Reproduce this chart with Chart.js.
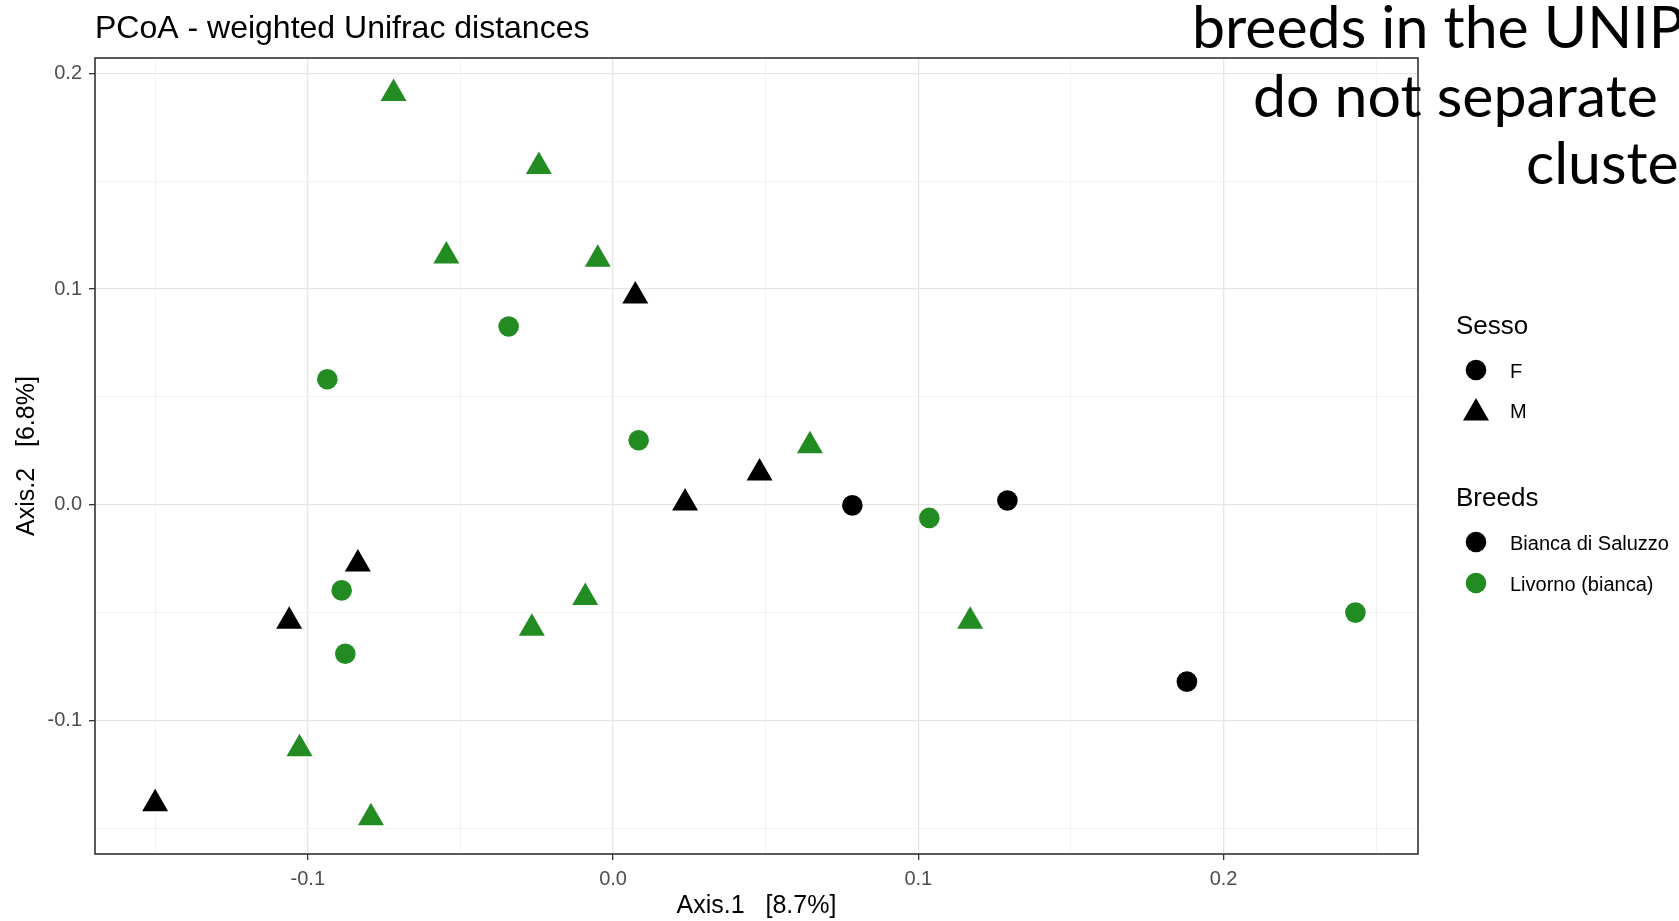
<!DOCTYPE html>
<html>
<head>
<meta charset="utf-8">
<title>PCoA - weighted Unifrac distances</title>
<script src="https://cdn.jsdelivr.net/npm/chart.js@4.4.1/dist/chart.umd.min.js"></script>
<style>
  html, body { margin: 0; padding: 0; background: #ffffff; overflow: hidden; }
  #wrap { position: relative; width: 1679px; height: 921px; }
  canvas { display: block; }
</style>
</head>
<body>
<div id="wrap"><canvas id="pcoa" width="1679" height="921"></canvas></div>
<script>
// PCoA coordinates per group (Axis.1, Axis.2)
const biancaF_x = [0.0784, 0.1292, 0.1880];
const biancaF_y = [-0.0003, 0.0020, -0.0820];

const biancaM_x = [0.0073, 0.0480, 0.0236, -0.0836, -0.1061, -0.1500];
const biancaM_y = [0.0968, 0.0147, 0.0008, -0.0275, -0.0540, -0.1386];

const livornoF_x = [-0.0342, -0.0936, 0.0084, -0.0889, -0.0877, 0.1036, 0.2432];
const livornoF_y = [0.0826, 0.0582, 0.0299, -0.0397, -0.0691, -0.0061, -0.0500];

const livornoM_x = [-0.0719, -0.0243, -0.0546, -0.0050, 0.0645, -0.0091, -0.0266, 0.1170, -0.1027, -0.0793];
const livornoM_y = [0.1906, 0.1568, 0.1153, 0.1138, 0.0274, -0.0430, -0.0573, -0.0540, -0.1131, -0.1451];

// axis ranges and grid positions (major lines are labelled, minor lines are not)
const xRange = [-0.1697, 0.2637];
const yRange = [-0.1619, 0.2071];
const xGrid = [-0.15, -0.10, -0.05, 0.00, 0.05, 0.10, 0.15, 0.20, 0.25];
const yGrid = [-0.15, -0.10, -0.05, 0.00, 0.05, 0.10, 0.15, 0.20];

const axisTitles = ['Axis.1   [8.7%]', 'Axis.2   [6.8%]'];
const plotTitle = 'PCoA - weighted Unifrac distances';
const sexLevels = ['F', 'M'];
const breedLevels = ['Bianca di Saluzzo', 'Livorno (bianca)'];
const overlayLines = ['breeds in the UNIP', 'do not separate', 'cluste'];

const COL_BIANCA = '#000000';
const COL_LIVORNO = '#228B22';
const CIRCLE_R = 10.3;
const TRI_R = 15;
const FONT = '"Liberation Sans", Arial, sans-serif';

function toPoints(xs, ys) { return xs.map((x, i) => ({ x: x, y: ys[i] })); }
function isMajor(v) { return Math.abs(Math.round(v * 10) - v * 10) < 1e-6; }

function gridOpts() {
  return {
    color: ctx => (ctx.tick && isMajor(ctx.tick.value)) ? '#e6e6e6' : '#f0f0f0',
    lineWidth: ctx => (ctx.tick && isMajor(ctx.tick.value)) ? 1.3 : 0.8,
    tickLength: 6,
    tickWidth: 1.3,
    tickColor: ctx => (ctx.tick && isMajor(ctx.tick.value)) ? '#333333' : 'rgba(0,0,0,0)',
    drawTicks: true
  };
}

// frame, title, two-part legend and overlay caption
const decorations = {
  id: 'decorations',
  afterDraw(chart) {
    const ctx = chart.ctx;
    const a = chart.chartArea;
    ctx.save();

    ctx.strokeStyle = '#333333';
    ctx.lineWidth = 1.6;
    ctx.strokeRect(a.left, a.top, a.right - a.left, a.bottom - a.top);

    ctx.fillStyle = '#000000';
    ctx.textBaseline = 'middle';
    ctx.textAlign = 'left';
    ctx.font = '32px ' + FONT;
    ctx.fillText(plotTitle, 95, 29);

    // legend: Sesso
    const mx = 1476, lx = 1510;
    ctx.font = '26px ' + FONT;
    ctx.fillText('Sesso', 1456, 327);
    ctx.font = '20px ' + FONT;
    Chart.helpers.drawPoint(ctx, { pointStyle: 'circle', radius: CIRCLE_R, rotation: 0, borderWidth: 0 }, mx, 370);
    ctx.fillText(sexLevels[0], lx, 372);
    Chart.helpers.drawPoint(ctx, { pointStyle: 'triangle', radius: TRI_R, rotation: 0, borderWidth: 0 }, mx, 413);
    ctx.fillText(sexLevels[1], lx, 412);

    // legend: Breeds
    ctx.font = '26px ' + FONT;
    ctx.fillText('Breeds', 1456, 499);
    ctx.font = '20px ' + FONT;
    ctx.fillStyle = COL_BIANCA;
    Chart.helpers.drawPoint(ctx, { pointStyle: 'circle', radius: CIRCLE_R, rotation: 0, borderWidth: 0 }, mx, 542);
    ctx.fillText(breedLevels[0], lx, 544);
    ctx.fillStyle = COL_LIVORNO;
    Chart.helpers.drawPoint(ctx, { pointStyle: 'circle', radius: CIRCLE_R, rotation: 0, borderWidth: 0 }, mx, 583);
    ctx.fillStyle = '#000000';
    ctx.fillText(breedLevels[1], lx, 585);

    // overlay caption
    ctx.textBaseline = 'alphabetic';
    ctx.font = '59px Lato, "Open Sans", sans-serif';
    ctx.fillText(overlayLines[0], 1192, 48);
    ctx.fillText(overlayLines[1], 1253, 117);
    ctx.fillText(overlayLines[2], 1526, 184);

    ctx.restore();
  }
};

const pointBase = { borderWidth: 0, pointBorderWidth: 0, showLine: false, pointHoverRadius: 0 };

new Chart(document.getElementById('pcoa'), {
  type: 'scatter',
  data: {
    datasets: [
      Object.assign({ label: 'Bianca di Saluzzo F', data: toPoints(biancaF_x, biancaF_y),
        pointStyle: 'circle', pointRadius: CIRCLE_R, backgroundColor: COL_BIANCA, pointBackgroundColor: COL_BIANCA }, pointBase),
      Object.assign({ label: 'Bianca di Saluzzo M', data: toPoints(biancaM_x, biancaM_y),
        pointStyle: 'triangle', pointRadius: TRI_R, backgroundColor: COL_BIANCA, pointBackgroundColor: COL_BIANCA }, pointBase),
      Object.assign({ label: 'Livorno (bianca) F', data: toPoints(livornoF_x, livornoF_y),
        pointStyle: 'circle', pointRadius: CIRCLE_R, backgroundColor: COL_LIVORNO, pointBackgroundColor: COL_LIVORNO }, pointBase),
      Object.assign({ label: 'Livorno (bianca) M', data: toPoints(livornoM_x, livornoM_y),
        pointStyle: 'triangle', pointRadius: TRI_R, backgroundColor: COL_LIVORNO, pointBackgroundColor: COL_LIVORNO }, pointBase)
    ]
  },
  options: {
    responsive: false,
    animation: false,
    devicePixelRatio: 1,
    layout: { padding: { top: 58, right: 261, bottom: 0, left: 0 } },
    plugins: { legend: { display: false }, tooltip: { enabled: false }, title: { display: false } },
    events: [],
    scales: {
      x: {
        type: 'linear',
        min: xRange[0], max: xRange[1],
        afterBuildTicks: s => { s.ticks = xGrid.map(v => ({ value: v })); },
        afterFit: s => { s.height = 67; },
        grid: gridOpts(),
        border: { display: false },
        ticks: {
          autoSkip: false, maxRotation: 0, padding: 7,
          color: '#4d4d4d', font: { family: FONT, size: 20 },
          callback: v => isMajor(v) ? v.toFixed(1) : ''
        },
        title: { display: true, text: axisTitles[0], color: '#000000',
          font: { family: FONT, size: 25 }, padding: { top: 0, bottom: 0 } }
      },
      y: {
        type: 'linear',
        min: yRange[0], max: yRange[1],
        afterBuildTicks: s => { s.ticks = yGrid.map(v => ({ value: v })); },
        afterFit: s => { s.width = 95; },
        grid: gridOpts(),
        border: { display: false },
        ticks: {
          autoSkip: false, padding: 7,
          color: '#4d4d4d', font: { family: FONT, size: 20 },
          callback: v => isMajor(v) ? v.toFixed(1) : ''
        },
        title: { display: true, text: axisTitles[1], color: '#000000',
          font: { family: FONT, size: 25 }, padding: { top: 12, bottom: 0 } }
      }
    }
  },
  plugins: [decorations]
});
</script>
</body>
</html>
